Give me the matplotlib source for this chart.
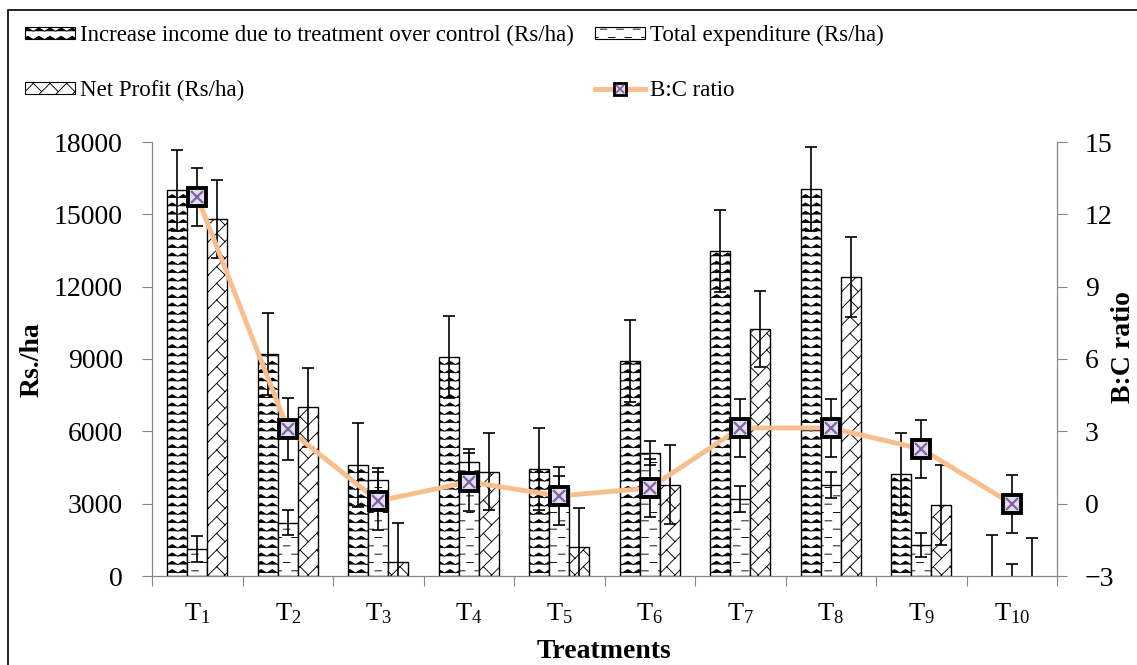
import warnings
import numpy as np
import matplotlib
matplotlib.use('Agg')
import matplotlib.pyplot as plt
import matplotlib.hatch as mhatch
from matplotlib.path import Path
from matplotlib.patches import Patch, Rectangle
from matplotlib.lines import Line2D

warnings.filterwarnings('ignore')

# 数据（从图上读出来的估计值）
treatments = ['1', '2', '3', '4', '5', '6', '7', '8', '9', '10']
income = [16000, 9200, 4600, 9100, 4450, 8920, 13490, 16060, 4230, 0]
income_err = [1680, 1700, 1750, 1700, 1700, 1700, 1700, 1740, 1700, 1700]
expenditure = [1120, 2200, 3980, 4730, 3650, 5100, 3200, 3780, 1290, 0]
expenditure_err = [540, 520, 500, 540, 500, 500, 530, 540, 490, 500]
net_profit = [14800, 7000, 560, 4330, 1220, 3790, 10250, 12410, 2950, 0]
net_profit_err = [1620, 1630, 1650, 1600, 1620, 1650, 1580, 1660, 1650, 1580]
bc_ratio = [12.73, 3.1, 0.11, 0.9, 0.32, 0.65, 3.14, 3.14, 2.27, 0.0]
bc_ratio_err = [1.2, 1.3, 1.2, 1.2, 1.2, 1.2, 1.2, 1.2, 1.2, 1.2]

left_ticks = [0, 3000, 6000, 9000, 12000, 15000, 18000]
right_ticks = [-3, 0, 3, 6, 9, 12, 15]


# 自定义的填充图案：z=锯齿, d=短横线, b=斜砖
def zigzag_lines(n):
    lines = []
    m = max(3 * n // 4, 1)
    xs = np.linspace(0, 1, 2 * m + 1)
    for i in range(n):
        ys = (i + 0.25) / n + 0.4 / n * (np.arange(2 * m + 1) % 2)
        lines.append(np.column_stack([xs, ys]))
    return lines


def dash_lines(n):
    lines = []
    k = max(n // 2, 1)
    for i in range(n):
        y = (i + 0.5) / n
        off = 0.5 / k if i % 2 else 0.0
        for j in range(k):
            x0 = j / k + off
            lines.append(np.array([[x0, y], [x0 + 0.4 / k, y]]))
    return lines


def brick_lines(n):
    lines = []
    for j in range(-n, n + 1):
        c = j / n
        lines.append(np.array([[c, 0.0], [c + 1, 1.0]]))
    for j in range(n):
        for k in range(n):
            s = (2 * k + j % 2) / n
            c = j / n
            x0 = (s + c) / 2
            y0 = (s - c) / 2
            seg = np.array([[x0, y0], [x0 + 0.5 / n, y0 - 0.5 / n]])
            for dx in (-1, 0, 1):
                for dy in (-1, 0, 1):
                    lines.append(seg + [dx, dy])
    return lines


CUSTOM = {'z': zigzag_lines, 'd': dash_lines, 'b': brick_lines}


class CustomHatch(mhatch.HatchPatternBase):
    def __init__(self, hatch, density):
        self.lines = []
        for ch, func in CUSTOM.items():
            cnt = hatch.count(ch)
            if cnt:
                self.lines += func(cnt * density)
        self.num_vertices = sum(len(l) for l in self.lines)

    def set_vertices_and_codes(self, vertices, codes):
        k = 0
        for l in self.lines:
            vertices[k:k + len(l)] = l
            codes[k] = Path.MOVETO
            codes[k + 1:k + len(l)] = Path.LINETO
            k += len(l)


mhatch._hatch_types.append(CustomHatch)

plt.rcParams['font.family'] = ['Liberation Serif', 'DejaVu Serif']
plt.rcParams['mathtext.fontset'] = 'custom'
plt.rcParams['mathtext.rm'] = 'Liberation Serif'
plt.rcParams['mathtext.it'] = 'Liberation Serif:italic'
plt.rcParams['mathtext.bf'] = 'Liberation Serif:bold'
plt.rcParams['hatch.linewidth'] = 0.65
plt.rcParams['hatch.color'] = 'black'

W, H = 1137, 665
fig = plt.figure(figsize=(W / 100, H / 100), dpi=100)
ax = fig.add_axes([152 / W, 1 - 576 / H, (1057 - 152) / W, (576 - 142) / H])
ax2 = ax.twinx()

x = np.arange(len(treatments))
bw = 0.22
axis_grey = '#868686'

for xs, vals, errs, hatch in [(x - bw, income, income_err, 'zz'), (x, expenditure, expenditure_err, 'dd'),
                              (x + bw, net_profit, net_profit_err, 'b')]:
    lws = [1.0 if v > 0 else 0 for v in vals]
    ax.bar(xs, vals, bw, color='white', edgecolor='black', linewidth=lws, hatch=hatch)
    ax.errorbar(xs, vals, yerr=errs, fmt='none', ecolor='black', elinewidth=1.2, capsize=4, capthick=1.2)

ax.set_xlim(-0.5, len(treatments) - 0.5)
ax.set_ylim(0, 18000)
ax.set_yticks(left_ticks)
ax.set_xticks(np.arange(len(treatments) + 1) - 0.5)
ax.set_xticklabels([])
ax.set_xticks(x, minor=True)
ax.set_xticklabels([r'T$_\mathregular{%s}$' % t for t in treatments], minor=True, fontsize=19)
ax.tick_params(axis='x', which='major', direction='out', length=7, color=axis_grey)
ax.tick_params(axis='x', which='minor', length=0, pad=18)
ax.tick_params(axis='y', direction='out', length=7, color=axis_grey, labelsize=20, pad=14)
ax.spines['top'].set_visible(False)
for s in ['left', 'bottom', 'right']:
    ax.spines[s].set_color(axis_grey)

# B:C 比值，右轴
line_color = '#F9BE8E'
ax2.errorbar(x, bc_ratio, yerr=bc_ratio_err, fmt='none', ecolor='black', elinewidth=1.2, capsize=4, capthick=1.2)
ax2.plot(x, bc_ratio, color=line_color, lw=3.5, marker='s', markersize=13,
         markerfacecolor='#E4DDF0', markeredgecolor='black', markeredgewidth=2.8)
ax2.plot(x, bc_ratio, linestyle='none', marker='x', markersize=9, markeredgecolor='#8064A2', markeredgewidth=1.6)
ax2.set_ylim(-3, 15)
ax2.set_yticks(right_ticks)
ax2.tick_params(axis='y', direction='out', length=7, color=axis_grey, labelsize=20, pad=13)
ax2.spines['top'].set_visible(False)
for s in ['left', 'bottom', 'right']:
    ax2.spines[s].set_color(axis_grey)

fig.text(32 / W, 1 - 360 / H, 'Rs./ha', rotation=90, fontsize=20, fontweight='bold', ha='center', va='center')
fig.text(1124 / W, 1 - 347 / H, 'B:C ratio', rotation=90, fontsize=20, fontweight='bold', ha='center', va='center')
fig.text(604 / W, 1 - 664 / H, 'Treatments', fontsize=20, fontweight='bold', ha='center', va='bottom')

# 图例，分两列
h_income = Patch(facecolor='white', edgecolor='black', hatch='zz', linewidth=0.8)
h_exp = Patch(facecolor='white', edgecolor='black', hatch='dd', linewidth=0.8)
h_net = Patch(facecolor='white', edgecolor='black', hatch='b', linewidth=0.8)
h_line = Line2D([], [], color=line_color, lw=3.5, marker='s', markersize=9,
                markerfacecolor='#E4DDF0', markeredgecolor='black', markeredgewidth=2)
h_x = Line2D([], [], linestyle='none', marker='x', markersize=6, markeredgecolor='#8064A2', markeredgewidth=1.3)

leg_kw = dict(frameon=False, fontsize=16.5, labelspacing=1.48, handleheight=0.45, handlelength=2.18,
              handletextpad=0.2, borderpad=0, borderaxespad=0, loc='upper left')
leg1 = fig.legend([h_income, h_net], ['Increase income due to treatment over control (Rs/ha)', 'Net Profit (Rs/ha)'],
                  bbox_to_anchor=(25 / W, 1 - 25 / H), **leg_kw)
leg2 = fig.legend([h_exp, (h_line, h_x)], ['Total expenditure (Rs/ha)', 'B:C ratio'],
                  bbox_to_anchor=(595 / W, 1 - 25 / H), **leg_kw)

# 外框
fig.add_artist(Rectangle((8 / W, -0.1), 1.2, 1 - 10 / H + 0.1, transform=fig.transFigure,
                         fill=False, edgecolor='black', linewidth=1.2))

fig.savefig('out.png', dpi=100)
